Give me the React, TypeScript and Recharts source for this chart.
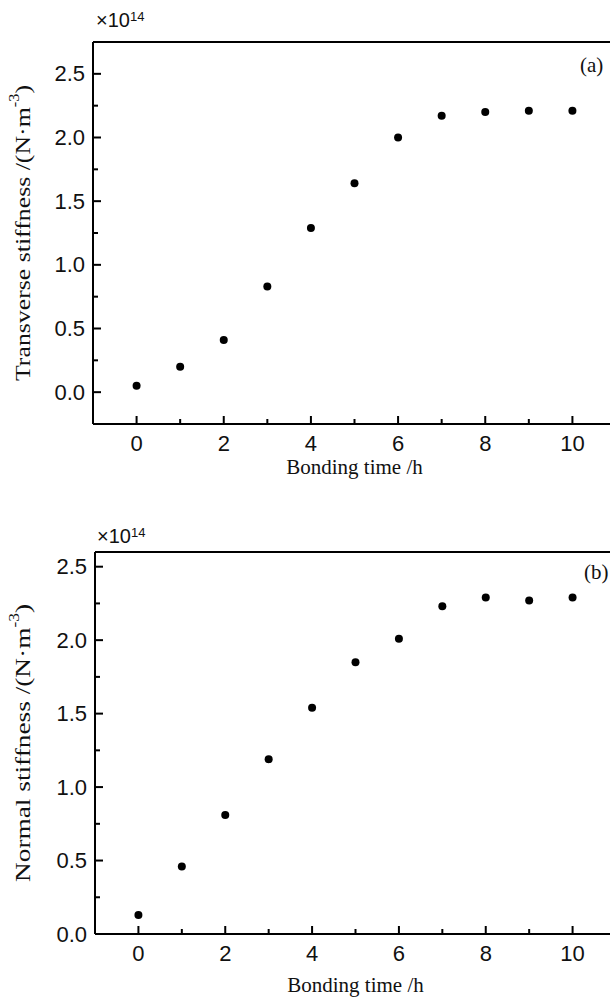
import React from 'react';
import { ScatterChart, Scatter, XAxis, YAxis, ReferenceLine } from 'recharts';

const hours = [0, 1, 2, 3, 4, 5, 6, 7, 8, 9, 10];
const transverseStiffness = [0.05, 0.2, 0.41, 0.83, 1.29, 1.64, 2.0, 2.17, 2.2, 2.21, 2.21];
const normalStiffness = [0.13, 0.46, 0.81, 1.19, 1.54, 1.85, 2.01, 2.23, 2.29, 2.27, 2.29];

const xTicks = [0, 1, 2, 3, 4, 5, 6, 7, 8, 9, 10];
const xMajorTicks = [0, 2, 4, 6, 8, 10];
const yTicks = [0, 0.25, 0.5, 0.75, 1, 1.25, 1.5, 1.75, 2, 2.25, 2.5];
const yMajorTicks = [0, 0.5, 1, 1.5, 2, 2.5];

const xTitle = 'Bonding time /h';
const topYTitle = 'Transverse stiffness /(N·m';
const bottomYTitle = 'Normal stiffness /(N·m';
const scaleText = '×10';
const scaleExp = '14';

const topData = hours.map((h, i) => ({ x: h, y: transverseStiffness[i] }));
const bottomData = hours.map((h, i) => ({ x: h, y: normalStiffness[i] }));

const SANS = '"Liberation Sans", Arial, sans-serif';
const SERIF = '"Liberation Serif", "Times New Roman", serif';

const XTick = (props: any) => {
  const { x, y, payload } = props;
  const v = payload.value;
  const major = xMajorTicks.includes(v);
  const len = major ? 8 : 5;
  return (
    <g>
      <rect x={x - 1} y={y - len} width={2} height={len} fill="#000" />
      {major && (
        <text x={x} y={y + 19} textAnchor="middle" dominantBaseline="central" fontFamily={SANS} fontSize={22} fill="#111">
          {String(v)}
        </text>
      )}
    </g>
  );
};

const YTick = (props: any) => {
  const { x, y, payload } = props;
  const v = payload.value;
  const major = yMajorTicks.some((m) => Math.abs(m - v) < 1e-9);
  const len = major ? 8 : 5;
  return (
    <g>
      <rect x={x} y={y - 1} width={len} height={2} fill="#000" />
      {major && (
        <text x={x - 8} y={y} textAnchor="end" dominantBaseline="central" fontFamily={SANS} fontSize={22} fill="#111">
          {v.toFixed(1)}
        </text>
      )}
    </g>
  );
};

const makeXTitle = (offset: number) => (props: any) => {
  const vb = props.viewBox || { x: 0, y: 0, width: 0, height: 0 };
  return (
    <text x={vb.x + vb.width / 2} y={vb.y + offset} textAnchor="middle" dominantBaseline="central" fontFamily={SERIF} fontSize={21} fill="#111">
      {xTitle}
    </text>
  );
};

const makeYTitle = (main: string, dx: number, len: number) => (props: any) => {
  const vb = props.viewBox || { x: 0, y: 0, width: 0, height: 0 };
  const cx = vb.x + dx;
  const cy = vb.y + vb.height / 2;
  return (
    <text
      transform={`rotate(-90, ${cx}, ${cy})`}
      x={cx}
      y={cy}
      textAnchor="middle"
      dominantBaseline="central"
      fontFamily={SERIF}
      fontSize={22}
      fill="#111"
      textLength={len}
      lengthAdjust="spacingAndGlyphs"
    >
      {main}
      <tspan dy={-8} fontSize={14}>-3</tspan>
      <tspan dy={8}>)</tspan>
    </text>
  );
};

const Dot = (props: any) => <circle cx={props.cx} cy={props.cy} r={4} fill="#000" />;

const ScaleLabel = ({ left, top }: { left: number; top: number }) => (
  <div style={{ position: 'absolute', left, top, fontFamily: SANS, fontSize: 20, lineHeight: '20px', color: '#111' }}>
    {scaleText}
    <sup style={{ fontSize: 13, verticalAlign: 'top', position: 'relative', top: -3 }}>{scaleExp}</sup>
  </div>
);

const PanelTag = ({ left, top, text }: { left: number; top: number; text: string }) => (
  <div style={{ position: 'absolute', left, top, fontFamily: SERIF, fontSize: 21, lineHeight: '20px', color: '#111' }}>{text}</div>
);

export default function App() {
  return (
    <div style={{ position: 'relative', width: 610, height: 1000, overflow: 'hidden', background: '#fff' }}>
      <style>{'html,body{margin:0;padding:0;overflow:hidden;}'}</style>
      <ScatterChart width={620} height={508} margin={{ top: 42, right: 4, left: 0, bottom: 0 }}>
        <XAxis
          type="number"
          dataKey="x"
          domain={[-1, 11]}
          ticks={xTicks}
          interval={0}
          allowDataOverflow
          height={84}
          tickSize={0}
          tickMargin={0}
          tickLine={false}
          tick={<XTick />}
          axisLine={{ stroke: '#000', strokeWidth: 2 }}
          label={{ content: makeXTitle(43) }}
        />
        <YAxis
          type="number"
          dataKey="y"
          domain={[-0.25, 2.75]}
          ticks={yTicks}
          interval={0}
          allowDataOverflow
          width={93}
          tickSize={0}
          tickMargin={0}
          tickLine={false}
          tick={<YTick />}
          axisLine={{ stroke: '#000', strokeWidth: 2 }}
          label={{ content: makeYTitle(topYTitle, 22, 296) }}
        />
        <ReferenceLine y={2.75} stroke="#000" strokeWidth={2} ifOverflow="extendDomain" />
        <ReferenceLine x={11} stroke="#000" strokeWidth={2} ifOverflow="extendDomain" />
        <Scatter data={topData} fill="#000" shape={<Dot />} isAnimationActive={false} />
      </ScatterChart>
      <ScatterChart width={620} height={492} margin={{ top: 44, right: 4, left: 0, bottom: 0 }}>
        <XAxis
          type="number"
          dataKey="x"
          domain={[-1, 11]}
          ticks={xTicks}
          interval={0}
          allowDataOverflow
          height={66}
          tickSize={0}
          tickMargin={0}
          tickLine={false}
          tick={<XTick />}
          axisLine={{ stroke: '#000', strokeWidth: 2 }}
          label={{ content: makeXTitle(51) }}
        />
        <YAxis
          type="number"
          dataKey="y"
          domain={[0, 2.6]}
          ticks={yTicks}
          interval={0}
          allowDataOverflow
          width={95}
          tickSize={0}
          tickMargin={0}
          tickLine={false}
          tick={<YTick />}
          axisLine={{ stroke: '#000', strokeWidth: 2 }}
          label={{ content: makeYTitle(bottomYTitle, 22, 278) }}
        />
        <ReferenceLine y={2.6} stroke="#000" strokeWidth={2} ifOverflow="extendDomain" />
        <ReferenceLine x={11} stroke="#000" strokeWidth={2} ifOverflow="extendDomain" />
        <Scatter data={bottomData} fill="#000" shape={<Dot />} isAnimationActive={false} />
      </ScatterChart>
      <ScaleLabel left={96} top={10} />
      <ScaleLabel left={97} top={526} />
      <PanelTag left={580} top={55} text="(a)" />
      <PanelTag left={584} top={562} text="(b)" />
    </div>
  );
}
